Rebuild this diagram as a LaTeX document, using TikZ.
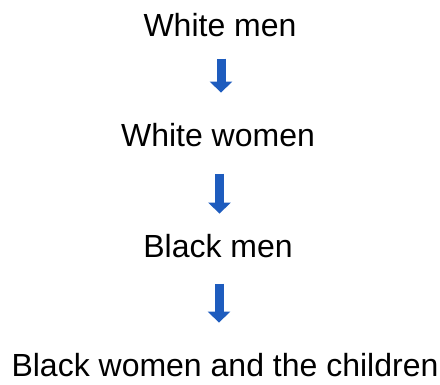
\documentclass[tikz,border=0pt]{standalone}
\usepackage{fontspec}
\setmainfont{Liberation Sans}
\usepackage{xcolor}
\usepackage{tikz}
\usetikzlibrary{arrows.meta, positioning}

\definecolor{arrowblue}{RGB}{30,92,190}

\begin{document}
\begin{tikzpicture}[x=1pt, y=1pt,
    label/.style={inner sep=0pt, anchor=base, font=\fontsize{32}{38}\selectfont},
    downarrow/.style={draw=arrowblue, line width=9pt, -{Triangle[length=11pt, width=22pt]}, arrowblue}]
          \useasboundingbox (0,0) rectangle (440,385);

          \node[label] (wm) at (220,348) {White men};
          \node[label] (ww) at (218,238) {White women};
          \node[label] (bm) at (218,127) {Black men};
          \node[label] (bw) at (225,8) {Black women and the children};

          \draw[downarrow, shorten <=21pt, shorten >=31pt] (wm.south -| 221,0) -- (ww.north -| 221,0);
          \draw[downarrow, shorten <=26pt, shorten >=21pt] (ww.south -| 219.5,0) -- (bm.north -| 219.5,0);
          \draw[downarrow, shorten <=25pt, shorten >=31pt] (bm.south -| 219,0) -- (bw.north -| 219,0);
        \end{tikzpicture}
\end{document}
